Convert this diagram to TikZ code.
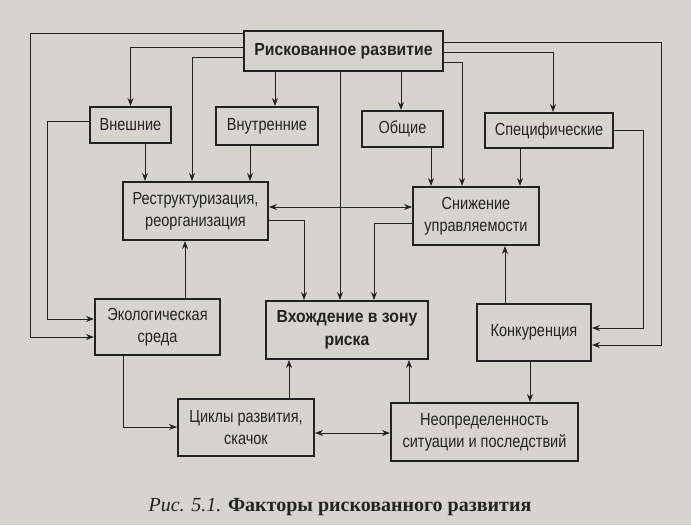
\documentclass[tikz,border=0pt]{standalone}
\usepackage{fontspec}
\setmainfont{Liberation Sans}[FakeStretch=0.83,BoldFeatures={FakeStretch=0.9}]
\newfontfamily\capfont{Liberation Serif}
\usepackage{tikz}
\usetikzlibrary{arrows.meta}
\definecolor{paper}{RGB}{214,212,206}
\definecolor{ink}{RGB}{35,35,35}

\begin{document}
\begin{tikzpicture}[x=1pt,y=-1pt,
    factor/.style={draw=ink,line width=2pt,fill=paper,text=ink,
        inner sep=0pt,align=center,font=\fontsize{17.5}{22}\selectfont},
    arr/.style={draw=ink,line width=1pt,-{Stealth[length=8pt,width=6pt]}},
    both/.style={draw=ink,line width=1pt,{Stealth[length=8pt,width=6pt]}-{Stealth[length=8pt,width=6pt]}}]

\fill[paper] (0,0) rectangle (691,525);
\useasboundingbox (0,0) rectangle (691,525);

\node[factor,minimum width=199pt,minimum height=40pt,font=\fontsize{17.5}{22}\selectfont\bfseries]
    (rr) at (343.5,51) {Рискованное развитие};

\node[factor,minimum width=81pt,minimum height=36pt] (vn) at (130.5,125) {Внешние};
\node[factor,minimum width=102pt,minimum height=38pt] (vt) at (267,126) {Внутренние};
\node[factor,minimum width=81pt,minimum height=36pt] (ob) at (402.5,129) {Общие};
\node[factor,minimum width=128pt,minimum height=35pt] (sp) at (549,130.5) {Специфические};

\node[factor,minimum width=145pt,minimum height=58pt] (rs) at (195.5,211)
    {Реструктуризация,\\реорганизация};
\node[factor,minimum width=126pt,minimum height=58pt] (sn) at (476,216)
    {Снижение\\управляемости};

\node[factor,minimum width=125pt,minimum height=56pt] (ek) at (157.5,327)
    {Экологическая\\среда};
\node[factor,minimum width=162pt,minimum height=58pt,font=\fontsize{17.5}{23}\selectfont\bfseries]
    (vh) at (347,330) {Вхождение в зону\\риска};
\node[factor,minimum width=114pt,minimum height=57pt] (kn) at (534,332.5) {Конкуренция};

\node[factor,minimum width=136pt,minimum height=57pt] (ck) at (246,427.5)
    {Циклы развития,\\скачок};
\node[factor,minimum width=187pt,minimum height=58pt] (np) at (484.5,432)
    {Неопределенность\\ситуации и последствий};

\node[text=ink,font=\fontsize{20}{22}\capfont] (cap) at (340,507)
    {\itshape Рис. 5.1. \bfseries\upshape Факторы рискованного развития};

% from the top box
\draw[arr] (rr.west |- 0,33) -| (30,337) -- (ek.west |- 0,337);
\draw[arr] (rr.east |- 0,42) -| (661,345) -- (kn.east |- 0,345);
\draw[arr] (rr.west |- 0,47) -| (vn.north);
\draw[arr] (rr.west |- 0,57) -| (rs.north -| 192,0);
\draw[arr] (rr.south -| 275,0) -- (vt.north -| 275,0);
\draw[arr] (rr.south -| 340,0) -- (vh.north -| 340,0);
\draw[arr] (rr.south -| 401,0) -- (ob.north -| 401,0);
\draw[arr] (rr.east |- 0,62) -| (sn.north -| 462,0);
\draw[arr] (rr.east |- 0,52) -| (sp.north -| 553,0);

% second row
\draw[arr] (vn.south -| 145,0) -- (rs.north -| 145,0);
\draw[arr] (vn.west |- 0,121) -| (47,319) -- (ek.west |- 0,319);
\draw[arr] (vt.south -| 250,0) -- (rs.north -| 250,0);
\draw[arr] (ob.south -| 431,0) -- (sn.north -| 431,0);
\draw[arr] (sp.south -| 520,0) -- (sn.north -| 520,0);
\draw[arr] (sp.east |- 0,130) -| (643,328) -- (kn.east |- 0,328);

% middle
\draw[both] (rs.east |- 0,207) -- (sn.west |- 0,207);
\draw[arr] (rs.east |- 0,220) -| (vh.north -| 304,0);
\draw[arr] (sn.west |- 0,223) -| (vh.north -| 374,0);
\draw[arr] (ek.north -| 185,0) -- (rs.south -| 185,0);
\draw[arr] (kn.north -| 505,0) -- (sn.south -| 505,0);

% bottom
\draw[arr] (ek.south -| 123,0) |- (ck.west |- 0,427);
\draw[arr] (ck.north -| 289,0) -- (vh.south -| 289,0);
\draw[both] (ck.east |- 0,433) -- (np.west |- 0,433);
\draw[arr] (np.north -| 409,0) -- (vh.south -| 409,0);
\draw[arr] (kn.south -| 530,0) -- (np.north -| 530,0);
\end{tikzpicture}
\end{document}
